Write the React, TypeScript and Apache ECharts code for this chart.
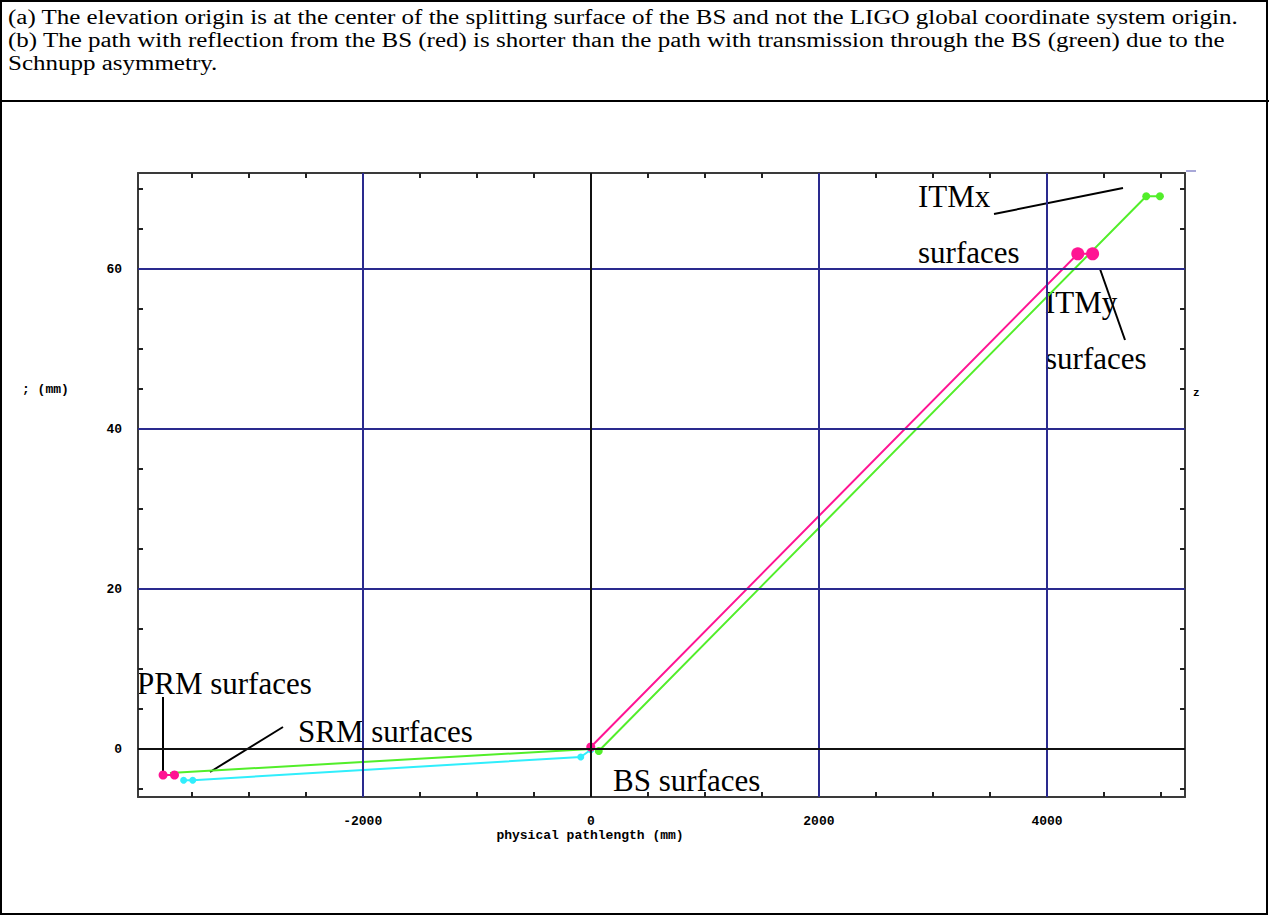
import React, { useEffect, useRef } from "react";
import * as echarts from "echarts";

// ---- axis definitions ----
const xMin = -3970;
const xMax = 5210;
const yMin = -6;
const yMax = 72;
const xLabelValues = [-2000, 0, 2000, 4000];
const xTickValues = [-3500, -3000, -2500, -2000, -1500, -1000, -500, 0, 500, 1000, 1500, 2000, 2500, 3000, 3500, 4000, 4500, 5000];
const yLabelValues = [0, 20, 40, 60];
const yTickValues = [-5, 0, 5, 10, 15, 20, 25, 30, 35, 40, 45, 50, 55, 60, 65, 70];
const xGridBlue = [-2000, 2000, 4000];
const yGridBlue = [20, 40, 60];

// ---- data (physical pathlength mm, elevation mm) ----
const commonPath = [[-3690, -3.0], [0, 0]];
const prmSurfaces = [[-3750, -3.25], [-3650, -3.25]];
const srmPath = [[-3570, -3.9], [-3490, -3.9], [-88, -1.0], [0, -0.1]];
const reflPath = [[0, 0.25], [4270, 61.9], [4400, 61.9]];
const transPath = [[70, -0.25], [4870, 69.1], [4990, 69.1]];

const headerLines = [
  "(a) The elevation origin is at the center of the splitting surface of the BS and not the LIGO global coordinate system origin.",
  "(b) The path with reflection from the BS (red) is shorter than the path with transmission through the BS (green) due to the",
  "Schnupp asymmetry.",
];

const GREEN = "#52ee2a";
const MAGENTA = "#ff1493";
const CYAN = "#30eefc";
const NAVY = "#2a2a8e";
const SERIF = "'Liberation Serif', 'Times New Roman', serif";
const MONO = "'Liberation Mono', 'Courier New', monospace";

export default function App() {
  const ref = useRef<HTMLDivElement>(null);
  useEffect(() => {
    if (!ref.current) return;
    const chart = echarts.init(ref.current, undefined, { renderer: "svg" });
    const gridLeft = 138;
    const gridRight = 1269 - 1185;
    const gridTop = 173;
    const gridBottom = 916 - 797;

    const frameLine = { show: true, onZero: false, lineStyle: { color: "#3a3a3a", width: 2 } };
    const tickStyle = { lineStyle: { color: "#222", width: 2 } };

    const annText = (x: number, y: number, text: string) => ({
      type: "text",
      x,
      y,
      style: { text, font: `31px ${SERIF}`, fill: "#000", verticalAlign: "middle" },
    });
    const leader = (x1: number, y1: number, x2: number, y2: number) => ({
      type: "line",
      shape: { x1, y1, x2, y2 },
      style: { stroke: "#000", lineWidth: 2 },
    });

    chart.setOption({
      animation: false,
      backgroundColor: "#fff",
      grid: { left: gridLeft, right: gridRight, top: gridTop, bottom: gridBottom },
      xAxis: [
        {
          type: "value",
          min: xMin,
          max: xMax,
          position: "bottom",
          axisLine: frameLine,
          axisTick: { show: true, inside: true, length: 5, customValues: xTickValues, ...tickStyle },
          axisLabel: {
            customValues: xLabelValues,
            formatter: (v: number) => String(v),
            color: "#000",
            fontFamily: MONO,
            fontWeight: "bold",
            fontSize: 13,
            margin: 18,
          },
          splitLine: { show: false },
        },
        {
          type: "value",
          min: xMin,
          max: xMax,
          position: "top",
          axisLine: frameLine,
          axisTick: { show: true, inside: true, length: 5, customValues: xTickValues, ...tickStyle },
          axisLabel: { show: false },
          splitLine: { show: false },
        },
      ],
      yAxis: [
        {
          type: "value",
          min: yMin,
          max: yMax,
          position: "left",
          axisLine: frameLine,
          axisTick: { show: true, inside: true, length: 5, customValues: yTickValues, ...tickStyle },
          axisLabel: {
            customValues: yLabelValues,
            formatter: (v: number) => String(v),
            color: "#000",
            fontFamily: MONO,
            fontWeight: "bold",
            fontSize: 13,
            margin: 16,
          },
          splitLine: { show: false },
        },
        {
          type: "value",
          min: yMin,
          max: yMax,
          position: "right",
          axisLine: frameLine,
          axisTick: { show: true, inside: true, length: 5, customValues: yTickValues, ...tickStyle },
          axisLabel: { show: false },
          splitLine: { show: false },
        },
      ],
      series: [
        {
          name: "grid",
          type: "line",
          data: [],
          z: 1,
          markLine: {
            silent: true,
            symbol: "none",
            label: { show: false },
            animation: false,
            data: [
              ...xGridBlue.map((v) => ({ xAxis: v, lineStyle: { color: NAVY, width: 2, type: "solid" } })),
              ...yGridBlue.map((v) => ({ yAxis: v, lineStyle: { color: NAVY, width: 2, type: "solid" } })),
              { xAxis: 0, lineStyle: { color: "#111", width: 2, type: "solid" } },
              { yAxis: 0, lineStyle: { color: "#111", width: 2, type: "solid" } },
            ],
          },
        },
        {
          name: "common",
          type: "line",
          data: commonPath,
          showSymbol: false,
          symbol: "none",
          lineStyle: { color: GREEN, width: 2 },
          z: 3,
        },
        {
          name: "SRM path",
          type: "line",
          data: srmPath,
          symbol: "circle",
          symbolSize: 7,
          itemStyle: { color: CYAN },
          lineStyle: { color: CYAN, width: 2 },
          z: 3,
        },
        {
          name: "PRM",
          type: "line",
          data: prmSurfaces,
          symbol: "circle",
          symbolSize: 9,
          itemStyle: { color: MAGENTA },
          lineStyle: { color: MAGENTA, width: 2 },
          z: 4,
        },
        {
          name: "reflection",
          type: "line",
          data: reflPath.map((p, i) => ({ value: p, symbolSize: i === 0 ? 9 : 13 })),
          symbol: "circle",
          itemStyle: { color: MAGENTA },
          lineStyle: { color: MAGENTA, width: 2 },
          z: 4,
        },
        {
          name: "transmission",
          type: "line",
          data: transPath,
          symbol: "circle",
          symbolSize: 8,
          itemStyle: { color: GREEN },
          lineStyle: { color: GREEN, width: 2 },
          z: 4,
        },
      ],
      graphic: [
        // table borders
        { type: "rect", shape: { x: 1, y: 1, width: 1266, height: 913 }, style: { fill: "none", stroke: "#000", lineWidth: 2 } },
        { type: "line", shape: { x1: 0, y1: 101, x2: 1269, y2: 101 }, style: { stroke: "#000", lineWidth: 2 } },
        // header text
        ...headerLines.map((t, i) => ({
          type: "text",
          x: 8,
          y: 17 + i * 23,
          scaleX: 1.25,
          style: { text: t, font: `20px ${SERIF}`, fill: "#000", verticalAlign: "middle" },
        })),
        // axis titles
        {
          type: "text",
          x: 590,
          y: 835,
          style: { text: "physical pathlength (mm)", font: `bold 13px ${MONO}`, fill: "#000", align: "center", verticalAlign: "middle" },
        },
        {
          type: "text",
          x: 22,
          y: 389,
          style: { text: "; (mm)", font: `bold 13px ${MONO}`, fill: "#000", verticalAlign: "middle" },
        },
        {
          type: "text",
          x: 1193,
          y: 393,
          style: { text: "z", font: `bold 11px ${MONO}`, fill: "#000", verticalAlign: "middle" },
        },
        { type: "line", shape: { x1: 1186, y1: 171, x2: 1196, y2: 171 }, style: { stroke: "#a8a8d8", lineWidth: 2 } },
        // annotations
        annText(918, 196, "ITMx"),
        annText(918, 252, "surfaces"),
        leader(994, 214, 1123, 188),
        annText(1045, 302, "ITMy"),
        annText(1045, 358, "surfaces"),
        leader(1100, 269, 1125, 340),
        annText(137, 683, "PRM surfaces"),
        leader(163, 697, 163, 773),
        annText(298, 731, "SRM surfaces"),
        leader(283, 727, 210, 772),
        annText(613, 780, "BS surfaces"),
      ],
    });
    return () => chart.dispose();
  }, []);
  return (
    <div
      ref={ref}
      style={{ position: "absolute", left: 0, top: 0, width: 1269, height: 916, background: "#fff" }}
    />
  );
}
